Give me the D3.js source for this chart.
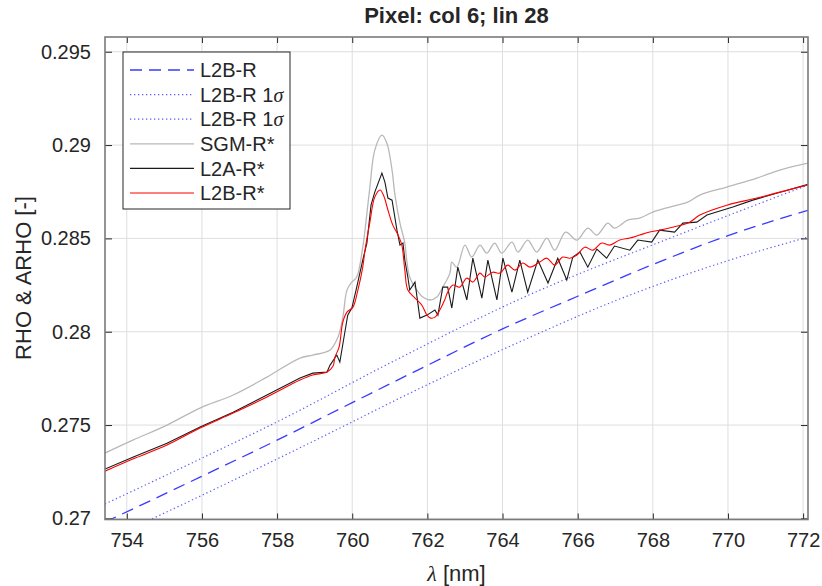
<!DOCTYPE html>
<html>
<head>
<meta charset="utf-8">
<script src="https://cdn.jsdelivr.net/npm/d3@7"></script>
<style>
  body { margin: 0; background: #fff; }
  text { font-family: "Liberation Sans", Arial, Helvetica, sans-serif; fill: #262626; }
</style>
</head>
<body>
<div id="chart"></div>
<script>
// wavelength [nm] and reflectance readings, one pair of arrays per series
const sgmX = [753.42, 754.16, 755.07, 755.95, 756.83, 757.73, 758.61, 758.95, 759.41, 759.62, 759.75, 759.86, 759.99, 760.12, 760.28, 760.34, 760.47, 760.60, 760.79, 760.92, 761.06, 761.13, 761.27, 761.40, 761.45, 761.53, 761.72, 761.88, 762.07, 762.25, 762.41, 762.60, 762.65, 762.78, 763.00, 763.18, 763.40, 763.58, 763.79, 763.98, 764.25, 764.41, 764.67, 764.91, 765.18, 765.39, 765.68, 765.98, 766.27, 766.51, 766.80, 766.98, 767.33, 767.65, 768.00, 768.45, 768.93, 769.25, 769.97, 770.77, 771.38, 772.13];
const sgmY = [0.27350, 0.27419, 0.27500, 0.27591, 0.27661, 0.27757, 0.27859, 0.27875, 0.27902, 0.27971, 0.28078, 0.28223, 0.28266, 0.28293, 0.28453, 0.28544, 0.28775, 0.28973, 0.29053, 0.29011, 0.28866, 0.28743, 0.28582, 0.28475, 0.28384, 0.28293, 0.28223, 0.28186, 0.28170, 0.28186, 0.28239, 0.28314, 0.28373, 0.28346, 0.28464, 0.28400, 0.28464, 0.28421, 0.28475, 0.28421, 0.28480, 0.28427, 0.28491, 0.28427, 0.28502, 0.28437, 0.28534, 0.28491, 0.28555, 0.28518, 0.28582, 0.28555, 0.28598, 0.28609, 0.28641, 0.28668, 0.28694, 0.28732, 0.28775, 0.28823, 0.28866, 0.28903];

const l2aX = [753.42, 754.16, 755.07, 755.95, 756.83, 757.73, 758.61, 758.95, 759.33, 759.41, 759.59, 759.67, 759.80, 759.88, 759.99, 760.12, 760.28, 760.39, 760.50, 760.60, 760.79, 760.87, 760.95, 761.06, 761.19, 761.27, 761.35, 761.40, 761.48, 761.53, 761.67, 761.80, 761.99, 762.20, 762.28, 762.41, 762.54, 762.65, 762.81, 763.05, 763.21, 763.45, 763.61, 763.85, 764.01, 764.25, 764.46, 764.67, 764.94, 765.21, 765.47, 765.71, 765.87, 766.06, 766.27, 766.51, 766.77, 766.98, 767.39, 767.60, 767.97, 768.18, 768.58, 768.80, 769.17, 769.44, 770.13, 770.66, 772.13];
const l2aY = [0.27264, 0.27328, 0.27403, 0.27489, 0.27569, 0.27661, 0.27752, 0.27778, 0.27784, 0.27821, 0.27875, 0.27837, 0.27993, 0.28089, 0.28127, 0.28239, 0.28384, 0.28475, 0.28678, 0.28748, 0.28850, 0.28802, 0.28716, 0.28705, 0.28544, 0.28464, 0.28475, 0.28384, 0.28293, 0.28223, 0.28266, 0.28073, 0.28089, 0.28116, 0.28089, 0.28239, 0.28239, 0.28127, 0.28346, 0.28170, 0.28394, 0.28180, 0.28384, 0.28170, 0.28394, 0.28212, 0.28384, 0.28212, 0.28384, 0.28261, 0.28394, 0.28277, 0.28400, 0.28427, 0.28346, 0.28443, 0.28394, 0.28459, 0.28437, 0.28491, 0.28480, 0.28544, 0.28534, 0.28582, 0.28587, 0.28625, 0.28668, 0.28705, 0.28790];

const l2bX = [753.42, 754.16, 755.07, 755.95, 756.83, 757.73, 758.61, 758.95, 759.33, 759.49, 759.54, 759.65, 759.75, 759.86, 760.02, 760.15, 760.28, 760.34, 760.47, 760.60, 760.74, 760.84, 760.95, 761.08, 761.22, 761.32, 761.40, 761.48, 761.67, 761.85, 761.99, 762.09, 762.20, 762.33, 762.46, 762.54, 762.68, 762.86, 763.05, 763.21, 763.40, 763.53, 763.74, 763.93, 764.14, 764.33, 764.54, 764.73, 764.99, 765.18, 765.39, 765.60, 765.79, 765.98, 766.19, 766.40, 766.64, 766.85, 767.12, 767.39, 767.65, 767.92, 768.18, 768.53, 768.98, 769.25, 769.97, 770.77, 771.38, 772.13];
const l2bY = [0.27253, 0.27318, 0.27393, 0.27484, 0.27564, 0.27650, 0.27741, 0.27768, 0.27784, 0.27816, 0.27864, 0.27918, 0.28052, 0.28105, 0.28132, 0.28223, 0.28346, 0.28437, 0.28587, 0.28721, 0.28759, 0.28727, 0.28652, 0.28571, 0.28518, 0.28464, 0.28330, 0.28223, 0.28180, 0.28143, 0.28089, 0.28073, 0.28078, 0.28116, 0.28170, 0.28212, 0.28250, 0.28239, 0.28287, 0.28266, 0.28314, 0.28293, 0.28319, 0.28314, 0.28357, 0.28330, 0.28368, 0.28346, 0.28373, 0.28394, 0.28357, 0.28400, 0.28394, 0.28411, 0.28453, 0.28437, 0.28475, 0.28464, 0.28491, 0.28502, 0.28518, 0.28534, 0.28544, 0.28560, 0.28587, 0.28625, 0.28678, 0.28716, 0.28748, 0.28786];

const retX = [753.42, 755.95, 758.00, 760.00, 762.00, 764.00, 766.00, 768.00, 770.00, 772.13];
const retY = [0.26980, 0.27221, 0.27419, 0.27620, 0.27820, 0.28015, 0.28190, 0.28360, 0.28515, 0.28650];
const hiX = [753.42, 755.95, 758.00, 761.00, 764.46, 768.72, 772.13];
const hiY = [0.27077, 0.27318, 0.27517, 0.27832, 0.28175, 0.28522, 0.28786];
const loX = [753.42, 755.95, 758.00, 760.00, 761.00, 764.46, 767.04, 770.05, 772.13];
const loY = [0.26880, 0.27119, 0.27318, 0.27517, 0.27618, 0.27946, 0.28169, 0.28384, 0.28507];

const xTicks = [754, 756, 758, 760, 762, 764, 766, 768, 770, 772];
const yTicks = [0.27, 0.275, 0.28, 0.285, 0.29, 0.295];
const xDomain = [753.42, 772.13];
const yDomain = [0.26994, 0.29579];

const width = 822, height = 586;
const margin = {left: 105, right: 14, top: 37, bottom: 66.5};
const plotW = width - margin.left - margin.right;
const plotH = height - margin.top - margin.bottom;

let svg = d3.select("#chart")
    .append("svg")
    .attr("width", width)
    .attr("height", height);

let g = svg.append("g")
    .attr("transform", `translate(${margin.left}, ${margin.top})`);

let x = d3.scaleLinear().domain(xDomain).range([0, plotW]);
let y = d3.scaleLinear().domain(yDomain).range([plotH, 0]);

// grid
g.append("g")
    .selectAll("line").data(xTicks).enter()
    .append("line")
    .attr("x1", d => x(d)).attr("x2", d => x(d))
    .attr("y1", 0).attr("y2", plotH)
    .attr("stroke", "#dedede").attr("stroke-width", 1);
g.append("g")
    .selectAll("line").data(yTicks).enter()
    .append("line")
    .attr("y1", d => y(d)).attr("y2", d => y(d))
    .attr("x1", 0).attr("x2", plotW)
    .attr("stroke", "#dedede").attr("stroke-width", 1);

g.append("clipPath").attr("id", "clip")
    .append("rect").attr("width", plotW).attr("height", plotH);

let series = [
    {xs: retX, ys: retY, color: "#3a3aff", dash: "12,7", width: 1.3, curve: d3.curveMonotoneX, name: "L2B-R"},
    {xs: hiX, ys: hiY, color: "#5a5aff", dash: "1.3,2.7", width: 1.2, curve: d3.curveMonotoneX, name: "L2B-R 1σ"},
    {xs: loX, ys: loY, color: "#5a5aff", dash: "1.3,2.7", width: 1.2, curve: d3.curveMonotoneX, name: "L2B-R 1σ"},
    {xs: sgmX, ys: sgmY, color: "#b8b8b8", dash: null, width: 1.3, curve: d3.curveCatmullRom, name: "SGM-R*"},
    {xs: l2aX, ys: l2aY, color: "#1a1a1a", dash: null, width: 1.1, curve: d3.curveLinear, name: "L2A-R*"},
    {xs: l2bX, ys: l2bY, color: "#ff0000", dash: null, width: 1.1, curve: d3.curveCatmullRom, name: "L2B-R*"}
];

let lines = g.append("g").attr("clip-path", "url(#clip)");
series.forEach(function (s) {
    let pts = s.xs.map((v, i) => [v, s.ys[i]]);
    lines.append("path")
        .attr("d", d3.line().x(d => x(d[0])).y(d => y(d[1])).curve(s.curve)(pts))
        .attr("fill", "none")
        .attr("stroke", s.color)
        .attr("stroke-width", s.width)
        .attr("stroke-dasharray", s.dash);
});

// axes, ticks inside on all four sides
let axisColor = "#7a7a7a";
let bottom = g.append("g").attr("transform", `translate(0, ${plotH})`)
    .call(d3.axisBottom(x).tickValues(xTicks).tickSizeInner(-6).tickSizeOuter(0).tickPadding(13).tickFormat(d3.format("d")));
let left = g.append("g")
    .call(d3.axisLeft(y).tickValues(yTicks).tickSizeInner(-7).tickSizeOuter(0).tickPadding(14).tickFormat(d => String(+d.toFixed(3))));
g.append("g")
    .call(d3.axisTop(x).tickValues(xTicks).tickSizeInner(-6).tickSizeOuter(0).tickFormat(""));
g.append("g").attr("transform", `translate(${plotW}, 0)`)
    .call(d3.axisRight(y).tickValues(yTicks).tickSizeInner(-7).tickSizeOuter(0).tickFormat(""));
g.selectAll(".domain").remove();
g.selectAll(".tick line").attr("stroke", "#262626");
g.selectAll(".tick text").attr("font-size", 20).attr("fill", "#262626")
    .style("font-family", "'Liberation Sans', Arial, sans-serif");

g.append("rect")
    .attr("width", plotW).attr("height", plotH)
    .attr("fill", "none").attr("stroke", axisColor).attr("stroke-width", 1.6);

// title and labels
svg.append("text")
    .attr("x", margin.left + plotW / 2).attr("y", 23)
    .attr("text-anchor", "middle").attr("font-size", 22).attr("font-weight", "bold")
    .text("Pixel: col 6; lin 28");

let xl = svg.append("text")
    .attr("x", margin.left + plotW / 2).attr("y", 581)
    .attr("text-anchor", "middle").attr("font-size", 22);
xl.append("tspan").attr("font-family", "'Liberation Serif', serif").attr("font-style", "italic").text("λ");
xl.append("tspan").text(" [nm]");

svg.append("text")
    .attr("transform", "translate(31, 278) rotate(-90)")
    .attr("text-anchor", "middle").attr("font-size", 22)
    .text("RHO & ARHO [-]");

// legend
let legend = svg.append("g").attr("transform", "translate(123, 52)");
legend.append("rect")
    .attr("width", 167).attr("height", 157)
    .attr("fill", "#fff").attr("stroke", "#262626").attr("stroke-width", 1);
let rowY = d3.scaleLinear().domain([0, 5]).range([18, 141]);
series.forEach(function (s, i) {
    legend.append("line")
        .attr("x1", 7).attr("x2", 71)
        .attr("y1", rowY(i)).attr("y2", rowY(i))
        .attr("stroke", s.color).attr("stroke-width", s.width)
        .attr("stroke-dasharray", s.dash);
    let t = legend.append("text")
        .attr("x", 77).attr("y", rowY(i)).attr("dy", "0.36em")
        .attr("font-size", 20);
    if (s.name.endsWith("σ")) {
        t.append("tspan").text(s.name.slice(0, -1));
        t.append("tspan").attr("font-family", "'Liberation Serif', serif").attr("font-style", "italic").text("σ");
    } else {
        t.text(s.name);
    }
});
</script>
</body>
</html>
